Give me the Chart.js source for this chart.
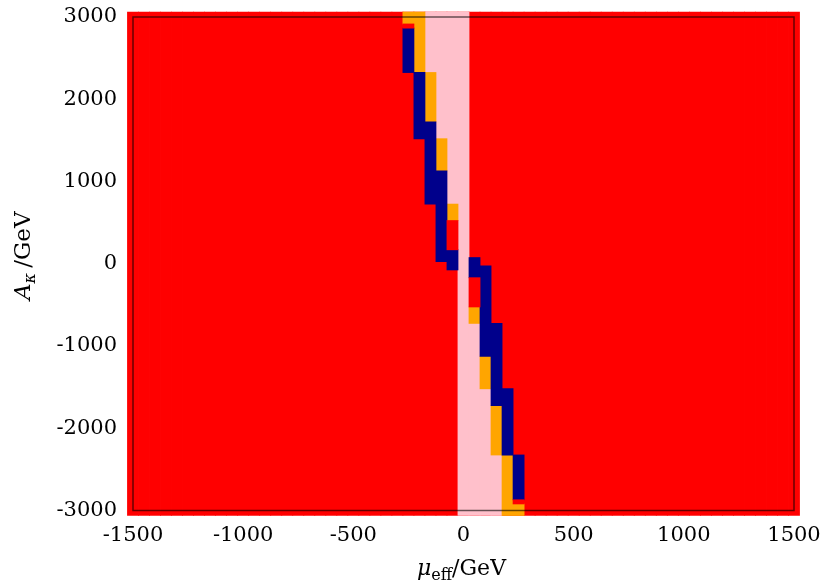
<!DOCTYPE html>
<html>
<head>
<meta charset="utf-8">
<title>mu_eff vs A_kappa scan</title>
<script src="https://cdn.jsdelivr.net/npm/chart.js@4.4.0/dist/chart.umd.min.js"></script>
<style>
    html, body { margin: 0; padding: 0; background: #ffffff; }
    #wrap { width: 828px; height: 583px; }
</style>
</head>
<body>
<div id="wrap"><canvas id="scanChart" width="828" height="583"></canvas></div>
<script>
// ===== Scan data =====

// mu_eff grid of the scan (GeV)
const muGrid = [
    -1500, -1450, -1400, -1350, -1300, -1250, -1200, -1150, -1100, -1050,
    -1000, -950, -900, -850, -800, -750, -700, -650, -600, -550,
    -500, -450, -400, -350, -300, -250, -200, -150, -100, -50,
    0, 50, 100, 150, 200, 250, 300, 350, 400, 450,
    500, 550, 600, 650, 700, 750, 800, 850, 900, 950,
    1000, 1050, 1100, 1150, 1200, 1250, 1300, 1350, 1400, 1450, 1500
];

// A_kappa extent covered by the scan (GeV)
const aTop = 3060;
const aBottom = -3060;

// cells: [mu_eff, A_kappa from, A_kappa to]
const pinkCells = [
    [-150, 2325, 3060],
    [-100, 1520, 3060],
    [-50, 725, 3060],
    [0, -3060, 3060],
    [50, -3060, -725],
    [100, -3060, -1520],
    [150, -3060, -2325]
];

const orangeCells = [
    [-250, 2915, 3060],
    [-200, 2325, 3060],
    [-150, 1725, 2325],
    [-100, 1130, 1520],
    [-50, 525, 725],
    [50, -725, -525],
    [100, -1520, -1125],
    [150, -2325, -1725],
    [200, -3060, -2325],
    [250, -3060, -2920]
];

const blueCells = [
    [-250, 2325, 2865],
    [-200, 1520, 2325],
    [-150, 725, 1725],
    [-100, 25, 1130],
    [-50, -75, 170],
    [50, -170, 75],
    [100, -1125, -25],
    [150, -1725, -725],
    [200, -2325, -1520],
    [250, -2870, -2325]
];

// excluded spots sitting inside the allowed strip
const redCells = [
    [-250, 2865, 2915],
    [-50, 170, 525],
    [50, -525, -170],
    [250, -2920, -2870]
];

const xTickStep = 500;
const yTickStep = 1000;

// ===== Colores =====
const colRed = '#ff0000';
const colPink = '#ffc0cb';
const colOrange = '#ffa500';
const colBlue = '#00008b';

const serif = '"DejaVu Serif", "Liberation Serif", serif';

const toBars = cells => cells.map(c => ({ x: c[0], y: [c[1], c[2]] }));

function cellSet(label, data, color) {
    return {
        label: label,
        data: data,
        backgroundColor: color,
        borderWidth: 0,
        grouped: false,
        barPercentage: 1,
        categoryPercentage: 1,
        inflateAmount: 0.4,
        clip: false
    };
}

// frame drawn on top of the cells
const framePlugin = {
    id: 'frame',
    afterDatasetsDraw(chart) {
        const { ctx, chartArea: a } = chart;
        ctx.save();
        ctx.strokeStyle = 'rgba(0, 0, 0, 0.6)';
        ctx.lineWidth = 1.5;
        ctx.strokeRect(a.left, a.top, a.right - a.left, a.bottom - a.top);
        ctx.restore();
    }
};

// axis titles with subscripts
function drawRich(ctx, parts, cx, baseY) {
    let total = 0;
    parts.forEach(p => {
        ctx.font = p.font;
        p.w = ctx.measureText(p.text).width;
        total += p.w;
    });
    let x = cx - total / 2;
    parts.forEach(p => {
        ctx.font = p.font;
        ctx.fillText(p.text, x, baseY + (p.dy || 0));
        x += p.w;
    });
}

const titlesPlugin = {
    id: 'axisTitles',
    afterDraw(chart) {
        const { ctx, chartArea: a } = chart;
        ctx.save();
        ctx.fillStyle = '#000000';
        ctx.textBaseline = 'alphabetic';
        ctx.textAlign = 'left';

        drawRich(ctx, [
            { text: 'μ', font: 'italic 22px ' + serif },
            { text: 'eff', font: '16px ' + serif, dy: 5 },
            { text: '/GeV', font: '22px ' + serif }
        ], (a.left + a.right) / 2 - 2, 575);

        ctx.translate(30, (a.top + a.bottom) / 2 - 8);
        ctx.rotate(-Math.PI / 2);
        drawRich(ctx, [
            { text: 'A', font: 'italic 23px ' + serif },
            { text: 'κ ', font: 'italic 16px ' + serif, dy: 5 },
            { text: '/GeV', font: '23px ' + serif }
        ], 0, 0);
        ctx.restore();
    }
};

const ctxScan = document.getElementById('scanChart').getContext('2d');

new Chart(ctxScan, {
    type: 'bar',
    data: {
        datasets: [
            cellSet('excluded spots', toBars(redCells), colRed),
            cellSet('blue', toBars(blueCells), colBlue),
            cellSet('orange', toBars(orangeCells), colOrange),
            cellSet('pink', toBars(pinkCells), colPink),
            cellSet('excluded', muGrid.map(mu => ({ x: mu, y: [aBottom, aTop] })), colRed)
        ]
    },
    options: {
        responsive: false,
        animation: false,
        layout: {
            padding: { left: 0, top: 17, right: 34, bottom: 0 }
        },
        plugins: {
            legend: { display: false },
            tooltip: { enabled: false }
        },
        scales: {
            x: {
                type: 'linear',
                min: -1500,
                max: 1500,
                offset: false,
                grid: { display: false, drawTicks: false },
                border: { display: false },
                ticks: {
                    stepSize: xTickStep,
                    padding: 7,
                    color: '#000000',
                    maxRotation: 0,
                    font: { family: serif, size: 21, lineHeight: 1.72 },
                    callback: v => String(v)
                },
                afterFit: s => { s.height = 72.5; }
            },
            y: {
                type: 'linear',
                min: -3000,
                max: 3000,
                grid: { display: false, drawTicks: false },
                border: { display: false },
                ticks: {
                    stepSize: yTickStep,
                    padding: 16,
                    color: '#000000',
                    font: { family: serif, size: 21, lineHeight: 0.05 },
                    callback: v => String(v)
                },
                afterFit: s => { s.width = 133; }
            }
        }
    },
    plugins: [framePlugin, titlesPlugin]
});
</script>
</body>
</html>
